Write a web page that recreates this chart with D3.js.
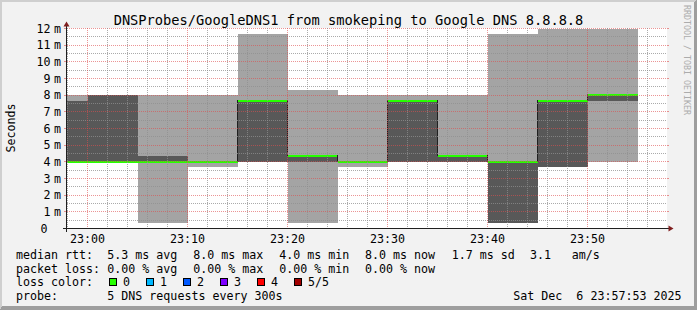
<!DOCTYPE html>
<html>
<head>
<meta charset="utf-8">
<script src="https://cdn.jsdelivr.net/npm/d3@7"></script>
<style>
body { margin: 0; background: #f2f2f2; }
svg text { font-family: "DejaVu Sans Mono", monospace; fill: #000; }
</style>
</head>
<body>
<div id="chart"></div>
<script>

var width = 697, height = 310;

// one point every 300s, value covers the 5 minutes before the stamp
var stamps = ["23:00","23:05","23:10","23:15","23:20","23:25","23:30","23:35","23:40","23:45","23:50","23:55"];
// sorted ping times in ms, ping1 .. ping5
var ping1 = [4.0, 4.0, 0.34, 3.7, 4.0, 0.34, 3.7, 4.0, 4.0, 0.34, 3.7, 4.0];
var ping2 = [4.0, 4.0, 4.0, 4.0, 4.0, 4.0, 4.0, 4.0, 4.0, 0.34, 3.7, 7.66];
var median = [4.0, 4.0, 4.0, 4.0, 7.66, 4.36, 4.0, 7.66, 4.36, 4.0, 7.66, 8.0];
var ping4 = [7.66, 8.0, 4.36, 4.0, 7.66, 4.36, 4.0, 7.66, 4.36, 4.0, 7.66, 8.0];
var ping5 = [8.0, 8.0, 8.0, 8.0, 11.66, 8.3, 8.0, 8.0, 8.0, 11.66, 12.0, 12.0];

var yTicks = [0,1,2,3,4,5,6,7,8,9,10,11,12];
var xTicks = ["23:00","23:10","23:20","23:30","23:40","23:50"];

var rttStats = ["5.3 ms avg", "8.0 ms max", "4.0 ms min", "8.0 ms now", "1.7 ms sd", "3.1", "am/s"];
var lossStats = ["0.00 % avg", "0.00 % max", "0.00 % min", "0.00 % now"];
var lossLabels = ["0", "1", "2", "3", "4", "5/5"];
var lossColors = ["#26ff00", "#00b8ff", "#0059ff", "#7e00ff", "#ff0000", "#a10000"];

var title = "DNSProbes/GoogleDNS1 from smokeping to Google DNS 8.8.8.8";
var probeText = "5 DNS requests every 300s";
var dateText = "Sat Dec  6 23:57:53 2025";

var parse = d3.timeParse("%Y-%m-%d %H:%M:%S");
var day = "2025-12-06 ";
var t0 = parse(day + "22:57:57"), t1 = parse(day + "23:57:57");

var x = d3.scaleTime().domain([t0, t1]).range([67, 667]);
var y = d3.scaleLinear().domain([0, 12]).range([228.5, 28.5]);

var data = stamps.map(function(s, i) {
  var te = parse(day + s + ":00");
  return {
    ts: new Date(te.getTime() - 300000), te: te,
    p1: ping1[i], p2: ping2[i], med: median[i], p4: ping4[i], p5: ping5[i]
  };
});

var svg = d3.select("#chart").append("svg")
  .attr("width", width).attr("height", height)
  .attr("shape-rendering", "crispEdges");

// background + 3d border like rrdtool
svg.append("rect").attr("width", width).attr("height", height).attr("fill", "#f2f2f2");
svg.append("path")
  .attr("d", "M0," + height + "L2," + (height - 4) + "L2,2L" + (width - 3) + ",2L" + width + ",0L0,0Z")
  .attr("fill", "#cfcfcf");
svg.append("path")
  .attr("d", "M2," + (height - 4) + "L" + (width - 3) + "," + (height - 4) + "L" + (width - 3) + ",2L" + width + ",0L" + width + "," + height + "L0," + height + "Z")
  .attr("fill", "#9e9e9e");

svg.append("rect").attr("x", 67).attr("y", 28).attr("width", 600).attr("height", 200).attr("fill", "#fff");

function colL(d) { return Math.max(67, Math.round(x(d.ts))); }
function colR(d) { return Math.round(x(d.te)); }

// smoke: outer band ping1..ping5, inner band ping2..ping4
svg.append("g").selectAll("rect")
  .data(data).enter().append("rect")
  .attr("x", colL)
  .attr("width", function(d) { return colR(d) - colL(d); })
  .attr("y", function(d) { return Math.round(y(d.p5)); })
  .attr("height", function(d) { return Math.round(y(d.p1)) - Math.round(y(d.p5)); })
  .attr("fill", "#a4a4a4");

svg.append("g").selectAll("rect")
  .data(data).enter().append("rect")
  .attr("x", colL)
  .attr("width", function(d) { return colR(d) - colL(d); })
  .attr("y", function(d) { return Math.round(y(d.p4)); })
  .attr("height", function(d) { return Math.round(y(d.p2)) - Math.round(y(d.p4)); })
  .attr("fill", "#585858");

// median swath (green = 0 loss)
svg.append("g").selectAll("rect")
  .data(data).enter().append("rect")
  .attr("x", colL)
  .attr("width", function(d) { return colR(d) - colL(d); })
  .attr("y", function(d) { return Math.round(y(d.med)) - 1; })
  .attr("height", 2)
  .attr("fill", lossColors[0]);

// dark median steps where the median changes
var steps = [];
for (var i = 1; i < data.length; i++) {
  if (data[i].med != data[i - 1].med) {
    var xs = Math.floor(x(data[i].ts)) + 0.5;
    var ya = Math.round(y(data[i - 1].med)) - 1, yb = Math.round(y(data[i].med)) - 1;
    steps.push([[xs, Math.min(ya, yb)], [xs, Math.max(ya, yb) + 1]]);
  }
}
svg.append("g").selectAll("path")
  .data(steps).enter().append("path")
  .attr("d", d3.line())
  .attr("stroke", "#202020").attr("stroke-width", 1).attr("fill", "none");

// grid
var grid = svg.append("g").attr("fill", "none");
var minorY = d3.range(0.5, 12, 1);
var majorY = yTicks.filter(function(v) { return v > 0; });
grid.selectAll(".hmin").data(minorY).enter().append("line")
  .attr("x1", 67).attr("x2", 667)
  .attr("y1", function(d) { return Math.floor(y(d)) + 0.5; })
  .attr("y2", function(d) { return Math.floor(y(d)) + 0.5; })
  .attr("stroke", "rgba(143,143,143,0.75)").attr("stroke-dasharray", "1,1");
grid.selectAll(".hmaj").data(majorY).enter().append("line")
  .attr("x1", 67).attr("x2", 667)
  .attr("y1", function(d) { return Math.floor(y(d)) + 0.5; })
  .attr("y2", function(d) { return Math.floor(y(d)) + 0.5; })
  .attr("stroke", "rgba(222,79,79,0.6)").attr("stroke-dasharray", "1,1");

var minorX = d3.timeMinute.every(2).range(t0, t1).filter(function(t) { return t.getMinutes() % 10 != 0; });
var majorX = d3.timeMinute.every(10).range(t0, t1);
grid.selectAll(".vmin").data(minorX).enter().append("line")
  .attr("y1", 28).attr("y2", 228)
  .attr("x1", function(d) { return Math.floor(x(d)) + 0.5; })
  .attr("x2", function(d) { return Math.floor(x(d)) + 0.5; })
  .attr("stroke", "rgba(143,143,143,0.75)").attr("stroke-dasharray", "1,1");
grid.selectAll(".vmaj").data(majorX).enter().append("line")
  .attr("y1", 28).attr("y2", 228)
  .attr("x1", function(d) { return Math.floor(x(d)) + 0.5; })
  .attr("x2", function(d) { return Math.floor(x(d)) + 0.5; })
  .attr("stroke", "rgba(222,79,79,0.6)").attr("stroke-dasharray", "1,1");

// little ticks outside the canvas
grid.selectAll(".tk").data(majorY).enter().append("path")
  .attr("d", function(d) { var yy = Math.floor(y(d)) + 0.5; return "M64," + yy + "H66M667," + yy + "H669"; })
  .attr("stroke", "rgba(222,79,79,0.6)");

// axes
svg.append("line").attr("x1", 63).attr("x2", 671).attr("y1", 228.5).attr("y2", 228.5).attr("stroke", "#1f1f1f");
svg.append("line").attr("x1", 66.5).attr("x2", 66.5).attr("y1", 232).attr("y2", 24).attr("stroke", "#1f1f1f");
svg.append("path").attr("d", "M668.5,225.5L668.5,231.5L673.5,228.5Z").attr("fill", "#801f1f").attr("shape-rendering", "auto");
svg.append("path").attr("d", "M63.5,26.5L69.5,26.5L66.5,21.5Z").attr("fill", "#801f1f").attr("shape-rendering", "auto");

// labels
var fs = "11.65px";
var ylab = svg.append("g").style("font-size", fs);
ylab.selectAll(".num").data(yTicks).enter().append("text")
  .attr("x", function(d) { return d == 0 ? 47.5 : 50.5; })
  .attr("y", function(d) { return y(d) + 4; })
  .attr("text-anchor", "end")
  .text(function(d) { return d; });
ylab.selectAll(".unit").data(majorY).enter().append("text")
  .attr("x", 54)
  .attr("y", function(d) { return y(d) + 4; })
  .text("m");

var hm = d3.timeParse("%Y-%m-%d %H:%M");
svg.append("g").style("font-size", fs).selectAll("text")
  .data(xTicks).enter().append("text")
  .attr("x", function(d) { return x(hm(day + d)); })
  .attr("y", 242.5)
  .attr("text-anchor", "middle")
  .text(function(d) { return d; });

svg.append("text")
  .attr("transform", "translate(15,128) rotate(-90)")
  .attr("text-anchor", "middle")
  .style("font-size", fs)
  .text("Seconds");

svg.append("text")
  .attr("x", 348.5).attr("y", 25)
  .attr("text-anchor", "middle")
  .style("font-size", "13.7px")
  .text(title);

svg.append("text")
  .attr("transform", "translate(684,60) rotate(90)")
  .attr("text-anchor", "middle")
  .style("font-size", "8.3px")
  .style("fill", "#acacac")
  .text("RRDTOOL / TOBI OETIKER");

// legend
var lg = svg.append("g").style("font-size", fs);
var rowY = [259, 272.7, 286.4, 300];
var statX = [107.3, 193.3, 279.3, 365, 451.7, 530, 571.7];
lg.append("text").attr("x", 16).attr("y", rowY[0]).text("median rtt:");
lg.append("text").attr("x", 16).attr("y", rowY[1]).text("packet loss:");
lg.append("text").attr("x", 16).attr("y", rowY[2]).text("loss color:");
lg.append("text").attr("x", 16).attr("y", rowY[3]).text("probe:");
lg.selectAll(".rtt").data(rttStats).enter().append("text")
  .attr("x", function(d, i) { return statX[i]; }).attr("y", rowY[0])
  .text(function(d) { return d; });
lg.selectAll(".loss").data(lossStats).enter().append("text")
  .attr("x", function(d, i) { return statX[i]; }).attr("y", rowY[1])
  .text(function(d) { return d; });

var boxes = lg.selectAll(".lc").data(lossLabels).enter().append("g")
  .attr("transform", function(d, i) { return "translate(" + (109 + 37 * i) + ",0)"; });
boxes.append("rect")
  .attr("x", 0.5).attr("y", 278.5).attr("width", 7).attr("height", 7)
  .attr("fill", function(d, i) { return lossColors[i]; })
  .attr("stroke", "#000");
boxes.append("text").attr("x", 14).attr("y", rowY[2]).text(function(d) { return d; });

lg.append("text").attr("x", 107.3).attr("y", rowY[3]).text(probeText);
lg.append("text").attr("x", 513.3).attr("y", rowY[3]).style("white-space", "pre").text(dateText);

</script>
</body>
</html>
